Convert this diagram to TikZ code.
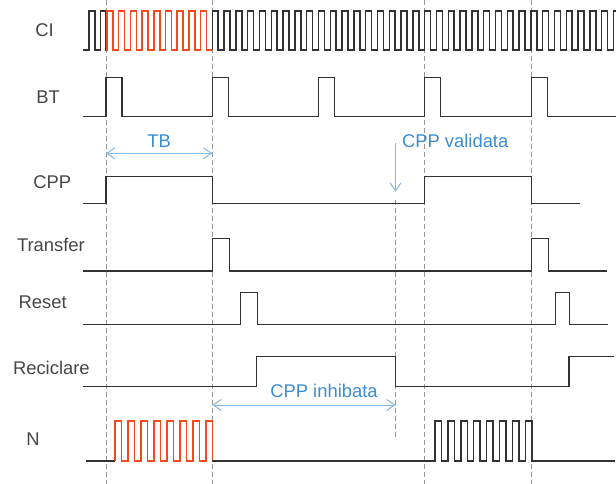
\documentclass[tikz,border=0pt]{standalone}
\usepackage{fontspec}
\setmainfont{Liberation Sans}
\usetikzlibrary{arrows.meta}

\definecolor{sigblack}{RGB}{50,50,50}
\definecolor{sigred}{RGB}{240,75,30}
\definecolor{guidegray}{RGB}{150,150,150}
\definecolor{notetext}{RGB}{60,140,210}
\definecolor{notearrow}{RGB}{130,185,230}
\definecolor{nametext}{RGB}{70,70,70}

\begin{document}
\begin{tikzpicture}[
     x = 1pt, y = -1pt, % one unit per pixel, y going down
     > = {Straight Barb[length=8pt,width=11pt]}, % arrow head style
     semithick % line style
 ]

 \tikzstyle{sigline} = [
     draw = sigblack,
     line width = 1.5pt
 ]
 \tikzstyle{countline} = [
     draw = sigred,
     line width = 1.5pt
 ]
 \tikzstyle{guide} = [
     draw = guidegray,
     line width = 1pt,
     dash pattern = on 5pt off 3pt
 ]
 \tikzstyle{signame} = [
     anchor = base west,
     inner sep = 0pt,
     text = nametext,
     font = \fontsize{18.4}{22}\selectfont
 ]
 \tikzstyle{note} = [
     inner sep = 0pt,
     text = notetext,
     font = \fontsize{18.4}{22}\selectfont
 ]
 \tikzstyle{dim} = [
     draw = notearrow,
     line width = 1pt
 ]

 \useasboundingbox (0,0) rectangle (616,484);

 % guide lines
 \foreach \x in {106,212.3,424.7,531.7}
     \draw[guide] (\x,0) -- (\x,484);
 \draw[guide] (395.5,200) -- (395.5,440);

 % signal names
 \node[signame] (ci) at (35,36.7) {CI};
 \node[signame] (bt) at (36,103.3) {BT};
 \node[signame] (cpp) at (33,188.3) {CPP};
 \node[signame] (transfer) at (16.7,251) {Transfer};
 \node[signame] (reset) at (18.3,308.3) {Reset};
 \node[signame] (reciclare) at (12.7,374) {Reciclare};
 \node[signame] (n) at (26,445) {N};

 % CI
 \draw[sigline] (83,50) -- (89,50) -- (89,11) -- (95,11) -- (95,50)
     -- (100.5,50) -- (100.5,11) -- (105.5,11) -- (105.5,50) -- (107,50);
 \draw[countline] (105.5,50) -- (107,50)
     \foreach \k in {1,...,9} { -- ++(0,-39) -- ++(6,0) -- ++(0,39) -- ++(5.7,0) };
 \draw[sigline] (212.3,50)
     \foreach \k in {1,...,34} { -- ++(0,-39) -- ++(5.9,0) -- ++(0,39) -- ++(5.9,0) }
     -- ++(0,-39) -- (616,11);

 % BT
 \draw[sigline] (83,116.7)
     \foreach \x in {106,212.3,318.3,424.7,531.7}
         { -- (\x,116.7) -- (\x,77.7) -- ({\x+16},77.7) -- ({\x+16},116.7) }
     -- (616,116.7);

 % CPP
 \draw[sigline] (83,203.3) -- (106,203.3) -- (106,176.7) -- (212.3,176.7)
     -- (212.3,203.3) -- (424.7,203.3) -- (424.7,176.7) -- (531.7,176.7)
     -- (531.7,203.3) -- (580,203.3);

 % Transfer
 \draw[sigline] (83,271) -- (212.3,271) -- (212.3,238.3) -- (229.3,238.3)
     -- (229.3,271) -- (531.7,271) -- (531.7,238.3) -- (548.7,238.3)
     -- (548.7,271) -- (606.7,271);

 % Reset
 \draw[sigline] (83,324.3) -- (240.7,324.3) -- (240.7,292.3) -- (257.3,292.3)
     -- (257.3,324.3) -- (555.7,324.3) -- (555.7,292.3) -- (569.3,292.3)
     -- (569.3,324.3) -- (608.3,324.3);

 % Reciclare
 \draw[sigline] (83,386.7) -- (256.3,386.7) -- (256.3,356.7) -- (395.5,356.7)
     -- (395.5,386.7) -- (569,386.7) -- (569,356.7) -- (614,356.7);

 % N
 \draw[sigline] (86,461) -- (115,461);
 \draw[countline] (115,461)
     \foreach \k in {1,...,7} { -- ++(0,-40) -- ++(6.49,0) -- ++(0,40) -- ++(6.49,0) }
     -- ++(0,-40) -- ++(6.49,0) -- ++(0,40);
 \draw[sigline] (212.3,461) -- (435,461)
     \foreach \k in {1,...,7} { -- ++(0,-40) -- ++(6.45,0) -- ++(0,40) -- ++(6.45,0) }
     -- ++(0,-40) -- ++(6.45,0) -- ++(0,40) -- (615,461);

 % notes
 \coordinate (tbL) at (106,153.3);
 \coordinate (tbR) at (212.3,153.3);
 \draw[dim, <->] (tbL) -- (tbR);
 \node[note, anchor=base] (tb) at (159.2,148) {TB};

 \coordinate (valTop) at (395.5,143.3);
 \coordinate (valTip) at (395.5,191.7);
 \draw[dim, ->] (valTop) -- (valTip);
 \node[note, anchor=base west] (validata) at (401.7,148) {CPP validata};

 \coordinate (inhL) at (212.3,405);
 \coordinate (inhR) at (395.5,405);
 \draw[dim, <->] (inhL) -- (inhR);
 \node[note, anchor=base west] (inhibata) at (270,397.5) {CPP inhibata};
\end{tikzpicture}
\end{document}
